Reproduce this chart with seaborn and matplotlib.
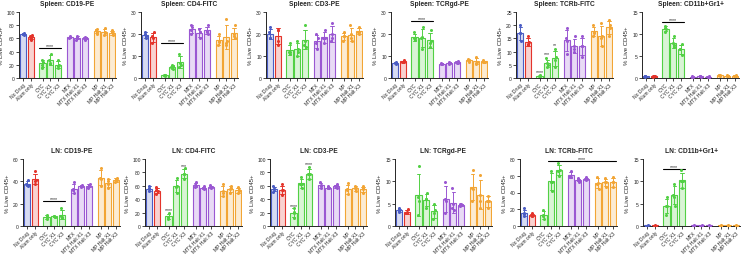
import numpy as np
import pandas as pd
import matplotlib
matplotlib.use("Agg")
import matplotlib.pyplot as plt
import seaborn as sns

sns.set_style("ticks")
plt.rcParams['font.family'] = ['Liberation Sans', 'DejaVu Sans']

# ---------------- data ----------------
groups = ["No Drug", "Alum only", "CYC", "CYC X1", "CYC X3",
          "MTX", "MTX Halt X1", "MTX Halt X3", "MP", "MP Halt X1", "MP Halt X3"]
color_group = [0, 1, 2, 2, 2, 3, 3, 3, 4, 4, 4]
palette = ["#4a5cc4", "#e4342b", "#52d044", "#9a57d2", "#f2a535"]

titles = ["Spleen: CD19-PE", "Spleen: CD4-FITC", "Spleen: CD3-PE", "Spleen: TCRgd-PE",
          "Spleen: TCRb-FITC", "Spleen: CD11b+Gr1+",
          "LN: CD19-PE", "LN: CD4-FITC", "LN: CD3-PE", "LN: TCRgd-PE",
          "LN: TCRb-FITC", "LN: CD11b+Gr1+"]

spl_cd19 = [[68, 66, 65, 67], [63, 60, 65, 58, 62], [25, 20, 15, 28], [37, 28, 22, 21],
            [27, 20, 15, 18], [63, 62, 62, 61], [64, 58, 62, 60], [62, 58, 60, 61],
            [74, 70, 67, 72], [76, 65, 70, 68], [72, 65, 68, 70]]
spl_cd4 = [[21, 19, 18, 20], [21, 18, 16, 19], [1.4, 1.2, 1.0, 1.3], [6, 5, 4, 5.5],
           [11, 7, 5, 6], [24, 22, 20, 23], [22.5, 21, 18, 21], [24, 21, 20, 21.5],
           [20, 17, 15, 16.5], [27, 17, 15, 16], [24, 20, 18, 19]]
spl_cd3 = [[23, 21, 18, 18], [22, 22, 17, 15], [16, 12, 12, 11], [17, 13, 10, 12],
           [24, 17, 14, 15], [20, 18, 13, 16], [22, 18, 16, 18], [25, 20, 17, 18],
           [21, 19, 17, 19], [24, 20, 17, 18], [23, 21, 20, 21]]
spl_tcrgd = [[7.5, 7, 6.5, 7], [8, 7.5, 7.5, 7.5], [21, 18, 17.5, 18], [23, 18, 13, 18.5],
             [22, 17, 14, 16], [6.5, 6.3, 6.7, 6.5], [7.5, 7, 6.5, 7], [7.8, 7, 6.8, 7.2],
             [8.5, 8, 7.5, 8], [9.5, 7.5, 6.5, 7], [8, 7.5, 7.2, 7.5]]
spl_tcrb = [[20, 17, 14, 17], [16, 13.5, 12.5, 13], [1, 0.8, 0.6, 0.7], [7.5, 5.5, 4, 5],
            [11, 7, 4, 8], [19, 15, 9, 14], [16, 12, 10, 11], [16, 12, 8, 12],
            [20, 17, 16, 17.5], [21, 16, 12, 15], [22, 20, 16, 19]]
spl_cd11b = [[0.5, 0.4, 0.3, 0.4], [0.5, 0.4, 0.3, 0.4], [11.8, 11.2, 10.5, 11.3],
             [9.5, 8, 7, 7.5], [7.8, 6.5, 5.2, 6.5], [0.4, 0.3, 0.3, 0.3],
             [0.5, 0.4, 0.3, 0.4], [0.4, 0.3, 0.2, 0.3], [0.7, 0.6, 0.5, 0.6],
             [0.6, 0.5, 0.4, 0.5], [0.6, 0.5, 0.4, 0.5]]
ln_cd19 = [[41, 38, 36, 37], [49, 40, 38, 41], [10, 8, 6, 8], [9, 8.5, 8, 9],
           [16, 9, 7, 8], [39, 33, 30, 32], [37, 36, 35, 36], [38, 36, 34, 37],
           [52, 43, 36, 42], [42, 38, 34, 40], [43, 41, 39, 42]]
ln_cd4 = [[60, 56, 52, 55], [58, 53, 48, 52], [20, 14, 10, 13], [72, 60, 50, 58],
          [86, 78, 70, 78], [65, 61, 58, 60], [59, 57, 55, 57], [61, 58, 56, 58],
          [62, 52, 45, 50], [60, 55, 50, 56], [58, 53, 49, 52]]
ln_cd3 = [[59, 55, 51, 55], [62, 54, 47, 53], [27, 20, 12, 21], [73, 63, 56, 62],
          [88, 78, 70, 77], [66, 61, 57, 60], [59, 57, 56, 57], [62, 59, 57, 59],
          [64, 55, 48, 53], [60, 56, 52, 56], [59, 55, 50, 56]]
ln_tcrgd = [[4, 3.5, 3.2, 3.3], [3.8, 3.2, 2.8, 3], [13.5, 6.5, 2.5, 5.5], [7.3, 6, 4, 6],
            [5, 3, 1.5, 3.5], [9.8, 6, 2.8, 5.5], [8.5, 5, 3.5, 4], [5, 4.8, 4.5, 4.9],
            [12.5, 8.5, 5.5, 8.3], [11.5, 7, 4, 5.5], [6.8, 5.5, 4, 5.7]]
ln_tcrb = [[21, 15, 12, 14], [15, 13, 12, 12.5], [19, 13, 8, 12], [66, 53, 42, 52],
           [75, 67, 60, 66], [66, 60, 58, 59], [57, 55, 53, 55], [58, 56, 55, 56],
           [59, 51, 44, 50], [57, 52, 47, 52], [58, 52, 46, 52]]
ln_cd11b = [[0.2, 0.1, 0.1, 0.1], [0.2, 0.1, 0.1, 0.1], [6.5, 4.5, 2.5, 4.5],
            [9.5, 7, 4.5, 6.5], [12.5, 10, 8.5, 10], [0.2, 0.1, 0.1, 0.1],
            [0.2, 0.1, 0.1, 0.1], [0.2, 0.1, 0.1, 0.1], [0.2, 0.1, 0.1, 0.1],
            [0.2, 0.1, 0.1, 0.1], [0.2, 0.1, 0.1, 0.1]]

panel_data = [spl_cd19, spl_cd4, spl_cd3, spl_tcrgd, spl_tcrb, spl_cd11b,
              ln_cd19, ln_cd4, ln_cd3, ln_tcrgd, ln_tcrb, ln_cd11b]
y_max = [100, 30, 30, 30, 25, 15, 60, 100, 100, 15, 80, 15]
y_step = [20, 10, 10, 10, 5, 5, 20, 20, 20, 5, 20, 5]

# significance: (first group index, last group index, y, label)
sig_marks = [
    [(2, 4, 46, "****")],
    [(2, 4, 16, "****")],
    [],
    [(2, 4, 26, "****")],
    [(2, 2, 1.6, "****"), (3, 3, 8.3, "***"), (4, 4, 11.8, "**")],
    [(2, 4, 12.8, "****")],
    [(2, 4, 22, "****")],
    [(2, 2, 21, "****"), (4, 4, 87, "***")],
    [(2, 2, 27, "****"), (4, 4, 89, "****")],
    [],
    [(3, 10, 78, "****")],
    [(2, 4, 12.8, "****")],
]

# ---------------- layout ----------------
positions = [0, 1, 2.5, 3.5, 4.5, 6, 7, 8, 9.5, 10.5, 11.5]
W, H = 743, 255
top_lefts = [19, 141, 266, 391, 516, 642]
bot_lefts = [23, 145, 270, 395, 520, 643]
ax_w = 97

fig = plt.figure(figsize=(W / 100, H / 100), dpi=100)

for p in range(12):
    row = p // 6
    left = (top_lefts if row == 0 else bot_lefts)[p % 6]
    top = 13 if row == 0 else 160
    bottom = 79 if row == 0 else 227
    ax = fig.add_axes([left / W, 1 - bottom / H, ax_w / W, (bottom - top) / H])

    recs = []
    for gi, vals in enumerate(panel_data[p]):
        for v in vals:
            recs.append({"pos": positions[gi], "val": v, "cg": color_group[gi]})
    df = pd.DataFrame(recs)

    for k in range(5):
        sub = df[df.cg == k]
        sns.barplot(data=sub, x="pos", y="val", native_scale=True, errorbar="sd",
                    color=palette[k], saturation=1, width=0.8, capsize=0.45,
                    err_kws={"color": palette[k], "linewidth": 0.7},
                    linewidth=0.8, edgecolor=palette[k], ax=ax)
    for patch in ax.patches:
        fc = patch.get_facecolor()
        patch.set_facecolor((fc[0], fc[1], fc[2], 0.22))
        patch.set_edgecolor((fc[0], fc[1], fc[2], 1))
    for k in range(5):
        sub = df[df.cg == k]
        sns.stripplot(data=sub, x="pos", y="val", native_scale=True, color=palette[k],
                      size=2.2, jitter=0.12, ax=ax, zorder=4, linewidth=0)

    ax.set_xlim(-0.55, 12.0)
    ax.set_ylim(0, y_max[p])
    ax.set_yticks(np.arange(0, y_max[p] + 0.01, y_step[p]))
    ax.set_xticks(positions)
    ax.set_xticklabels(groups, rotation=45, ha="right", rotation_mode="anchor", fontsize=3.6)
    ax.tick_params(axis="y", labelsize=3.6, length=2, width=0.6, pad=1)
    ax.tick_params(axis="x", length=2, width=0.6, pad=1)
    for s in ["top", "right"]:
        ax.spines[s].set_visible(False)
    for s in ["left", "bottom"]:
        ax.spines[s].set_linewidth(0.7)
    ax.set_xlabel("")
    ax.set_ylabel("% Live CD45+", fontsize=4.3, labelpad=2)
    ax.set_title(titles[p], fontsize=4.8, fontweight="bold", pad=5)

    for (a, b, y, lab) in sig_marks[p]:
        if a == b:
            ax.text(positions[a], y, lab, ha="center", va="bottom", fontsize=3.8)
        else:
            ax.plot([positions[a] - 0.4, positions[b] + 0.4], [y, y], color="black",
                    linewidth=0.8, clip_on=False)
            ax.text((positions[a] + positions[b]) / 2, y, lab, ha="center",
                    va="bottom", fontsize=3.8)

fig.savefig("out.png", dpi=100)
